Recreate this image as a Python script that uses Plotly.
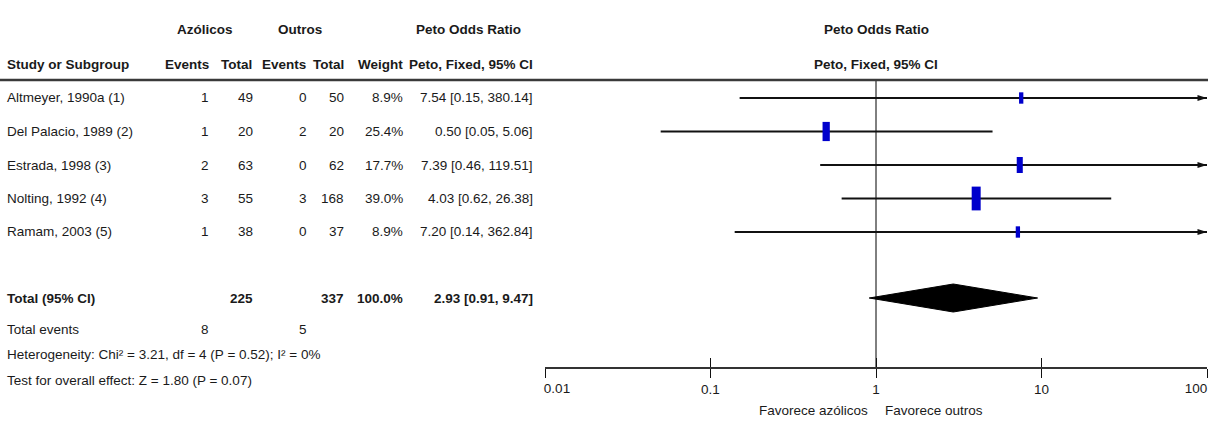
import math
import plotly.graph_objects as go

# ---- data -------------------------------------------------------------
studies = ["Altmeyer, 1990a (1)", "Del Palacio, 1989 (2)", "Estrada, 1998 (3)",
           "Nolting, 1992 (4)", "Ramam, 2003 (5)"]
azol_events = [1, 1, 2, 3, 1]
azol_total = [49, 20, 63, 55, 38]
outros_events = [0, 2, 0, 3, 0]
outros_total = [50, 20, 62, 168, 37]
weights = [8.9, 25.4, 17.7, 39.0, 8.9]
odds_ratio = [7.54, 0.50, 7.39, 4.03, 7.20]
ci_low = [0.15, 0.05, 0.46, 0.62, 0.14]
ci_high = [380.14, 5.06, 119.51, 26.38, 362.84]

total_azol = 225
total_outros = 337
total_weight = 100.0
total_or = 2.93
total_low = 0.91
total_high = 9.47
events_azol = 8
events_outros = 5

heterogeneity = "Heterogeneity: Chi² = 3.21, df = 4 (P = 0.52); I² = 0%"
overall = "Test for overall effect: Z = 1.80 (P = 0.07)"
tick_vals = [0.01, 0.1, 1, 10, 100]
tick_text = ["0.01", "0.1", "1", "10", "100"]

# ---- layout helpers (page pixels) ------------------------------------
W, H = 1208, 428
FONT = "Liberation Sans, Arial, sans-serif"
FS = 13.5
AX_LEFT, AX_RIGHT = 545, 1207
TOP_RULE, AXIS_Y = 80, 367
row_y = [98 + 33.5 * i for i in range(len(studies))]
TOTAL_Y = 298
EVENTS_Y, HET_Y, TEST_Y = 329, 354, 380


def px(x):
    return x / W


def py(y):
    return 1 - y / H


annotations = []


def txt(x, y, s, anchor="left", bold=False, size=FS):
    annotations.append(dict(
        x=px(x), y=py(y), xref="paper", yref="paper", text=f"<b>{s}</b>" if bold else s,
        showarrow=False, xanchor=anchor, yanchor="middle", borderpad=0,
        font=dict(family=FONT, size=size, color="#1a1a1a")))


# column headers
txt(205, 30, "Azólicos", "center", True)
txt(300, 30, "Outros", "center", True)
txt(468, 30, "Peto Odds Ratio", "center", True)
txt(6, 65, "Study or Subgroup", "left", True)
txt(210, 65, "Events", "right", True)
txt(253, 65, "Total", "right", True)
txt(307, 65, "Events", "right", True)
txt(345, 65, "Total", "right", True)
txt(404, 65, "Weight", "right", True)
txt(534, 65, "Peto, Fixed, 95% CI", "right", True)
txt(876, 30, "Peto Odds Ratio", "center", True)
txt(876, 65, "Peto, Fixed, 95% CI", "center", True)

# study rows
for i, name in enumerate(studies):
    y = row_y[i]
    txt(6, y, name)
    txt(210, y, str(azol_events[i]), "right")
    txt(254, y, str(azol_total[i]), "right")
    txt(308, y, str(outros_events[i]), "right")
    txt(345, y, str(outros_total[i]), "right")
    txt(404, y, f"{weights[i]:.1f}%", "right")
    txt(534, y, f"{odds_ratio[i]:.2f} [{ci_low[i]:.2f}, {ci_high[i]:.2f}]", "right")

# pooled rows
txt(6, TOTAL_Y, "Total (95% CI)", bold=True)
txt(254, TOTAL_Y, str(total_azol), "right", True)
txt(345, TOTAL_Y, str(total_outros), "right", True)
txt(404, TOTAL_Y, f"{total_weight:.1f}%", "right", True)
txt(534, TOTAL_Y, f"{total_or:.2f} [{total_low:.2f}, {total_high:.2f}]", "right", True)
txt(6, EVENTS_Y, "Total events")
txt(210, EVENTS_Y, str(events_azol), "right")
txt(308, EVENTS_Y, str(events_outros), "right")
txt(6, HET_Y, heterogeneity)
txt(6, TEST_Y, overall)

# favours labels under the axis
txt(869, 410, "Favorece azólicos", "right")
txt(884, 410, "Favorece outros", "left")

fig = go.Figure()

x_max = tick_vals[-1]

# line of no effect
fig.add_trace(go.Scatter(x=[1, 1], y=[TOP_RULE, AXIS_Y], mode="lines",
                         line=dict(color="#000", width=1), hoverinfo="skip"))

# confidence intervals, clipped at the axis end with an arrow
for i in range(len(studies)):
    hi = min(ci_high[i], x_max)
    fig.add_trace(go.Scatter(x=[ci_low[i], hi], y=[row_y[i]] * 2, mode="lines",
                             line=dict(color="#111", width=2), hoverinfo="skip",
                             cliponaxis=False))
    if ci_high[i] > x_max:
        fig.add_trace(go.Scatter(x=[x_max], y=[row_y[i]], mode="markers",
                                 marker=dict(symbol="arrow", angle=90, size=10, color="#111"),
                                 cliponaxis=False, hoverinfo="skip"))

# study boxes, area proportional to weight
w_max = max(weights)
box_h = [17 * math.sqrt(w / w_max) for w in weights]
box_w = [9 * math.sqrt(w / w_max) for w in weights]
for i in range(len(studies)):
    fig.add_trace(go.Scatter(x=[odds_ratio[i]], y=[row_y[i]], mode="markers",
                             marker=dict(symbol="line-ns", size=box_h[i],
                                         line=dict(color="#0000CC", width=box_w[i])),
                             hoverinfo="skip"))

# pooled diamond
half = 14
fig.add_trace(go.Scatter(x=[total_low, total_or, total_high, total_or, total_low],
                         y=[TOTAL_Y, TOTAL_Y - half, TOTAL_Y, TOTAL_Y + half, TOTAL_Y],
                         mode="lines", fill="toself", fillcolor="#000",
                         line=dict(color="#000", width=1), hoverinfo="skip"))

# header rule
shapes = [dict(type="line", xref="paper", yref="paper", x0=0, x1=1,
               y0=py(TOP_RULE), y1=py(TOP_RULE), line=dict(color="#3a3a3a", width=2.5))]

dom = [AX_LEFT / W, AX_RIGHT / W]
tick_font = dict(family=FONT, size=FS, color="#1a1a1a")
common = dict(type="log", range=[-2, 2], domain=dom, anchor="y", side="bottom",
              showgrid=False, zeroline=False, automargin=False,
              ticks="outside", ticklen=9, tickfont=tick_font)
hidden_ticks = dict(tickwidth=0, tickcolor="rgba(0,0,0,0)", showline=False)
# inner ticks get centred labels; the two end labels are nudged inside the axis span
inner_text = [""] + tick_text[1:-1] + [""]

fig.update_layout(
    width=W, height=H, margin=dict(l=0, r=0, t=0, b=0, autoexpand=False),
    paper_bgcolor="white", plot_bgcolor="white", showlegend=False,
    annotations=annotations, shapes=shapes,
    xaxis=dict(**common, showline=True, linecolor="#333", linewidth=2,
               tickwidth=1, tickcolor="#111",
               tickvals=tick_vals, ticktext=inner_text),
    xaxis2=dict(type="log", range=[-2, 2], domain=dom, anchor="y", side="bottom",
                overlaying="x", showgrid=False, zeroline=False, automargin=False,
                showline=False, ticks="inside", ticklen=9, tickwidth=1, tickcolor="#111",
                tickvals=tick_vals, showticklabels=False),
    xaxis3=dict(**common, **hidden_ticks, overlaying="x",
                tickvals=tick_vals[:1], ticktext=tick_text[:1], ticklabelshift=12),
    xaxis4=dict(**common, **hidden_ticks, overlaying="x",
                tickvals=tick_vals[-1:], ticktext=tick_text[-1:], ticklabelshift=-11),
    yaxis=dict(range=[AXIS_Y, TOP_RULE], domain=[1 - AXIS_Y / H, 1 - TOP_RULE / H],
               visible=False, fixedrange=True, automargin=False),
)
# invisible anchors so every overlay axis is drawn
for ax in ["x2", "x3", "x4"]:
    fig.add_trace(go.Scatter(x=[1], y=[AXIS_Y], xaxis=ax, mode="markers",
                             marker=dict(size=0.1, opacity=0), hoverinfo="skip"))

fig.write_html("out.html")
